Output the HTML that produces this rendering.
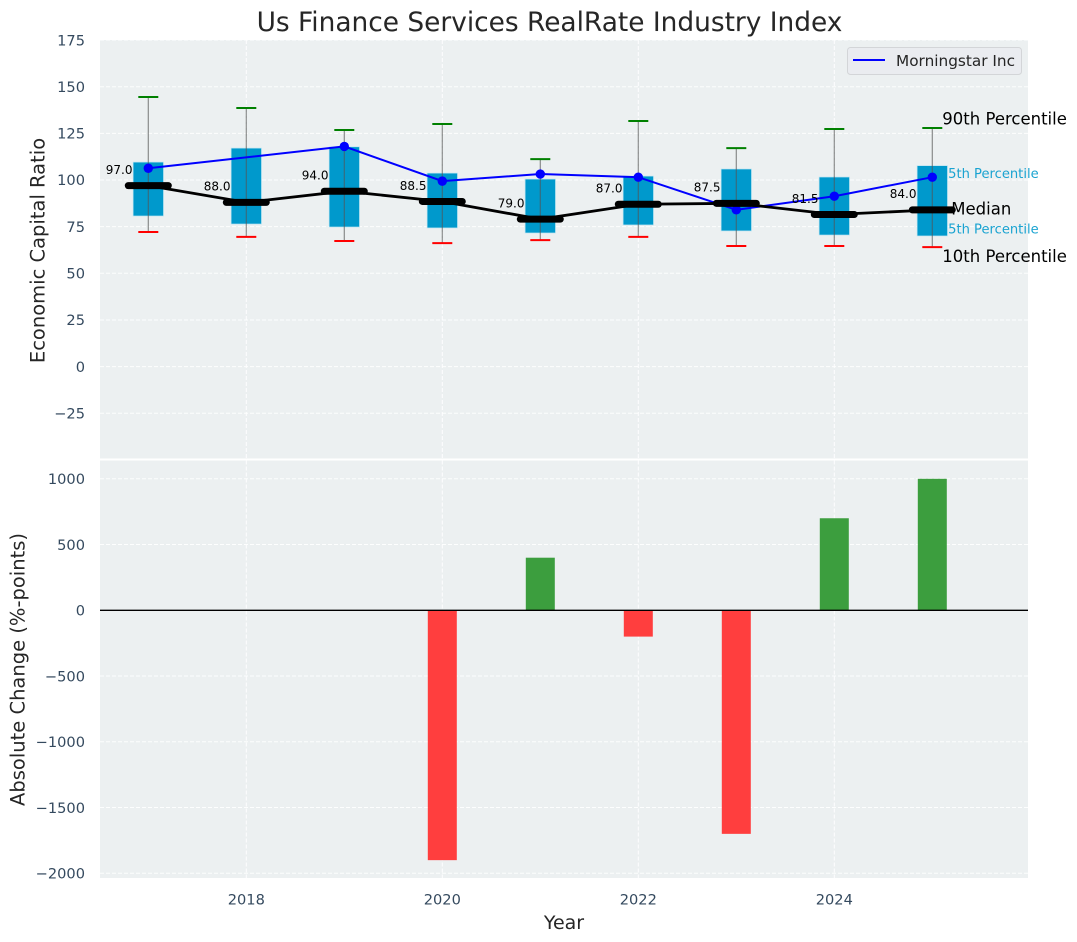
<!DOCTYPE html>
<html lang="en">
<head>
<meta charset="utf-8">
<title>Us Finance Services RealRate Industry Index</title>
<style>
html,body{margin:0;padding:0;background:#fff;width:1077px;height:942px;overflow:hidden}
svg{display:block;font-family:"DejaVu Sans","Liberation Sans",sans-serif}
</style>
</head>
<body>
<svg id="chart" width="1077" height="942" viewBox="0 0 1077 942" xmlns="http://www.w3.org/2000/svg">
  <g id="backgrounds"></g>
  <g id="layer"></g>
  <text x="549.5" y="31" text-anchor="middle" font-size="26.4" fill="#262626">Us Finance Services RealRate Industry Index</text>
  <text transform="translate(44.5,250.5) rotate(-90)" text-anchor="middle" font-size="19.5" fill="#262626">Economic Capital Ratio</text>
  <text transform="translate(24.5,669.5) rotate(-90)" text-anchor="middle" font-size="19.5" fill="#262626">Absolute Change (%-points)</text>
  <text x="564" y="929" text-anchor="middle" font-size="19" fill="#262626">Year</text>
  <g>
    <rect x="847.5" y="47.5" width="174" height="27" rx="3" fill="#EAECF0" stroke="#D3D5D8"/>
    <line x1="853" x2="885" y1="60" y2="60" stroke="#0000FF" stroke-width="2"/>
    <text x="896" y="66" font-size="15.3" fill="#262626">Morningstar Inc</text>
  </g>
</svg>
<script>
const years = [2017, 2018, 2019, 2020, 2021, 2022, 2023, 2024, 2025];
const p90 = [144.5, 138.6, 126.8, 130, 111.2, 131.6, 117.1, 127.3, 127.9];
const p75 = [109.6, 117.1, 117.8, 103.7, 100.5, 102.1, 105.9, 101.6, 107.7];
const median = [97, 88, 94, 88.5, 79, 87, 87.5, 81.5, 84];
const p25 = [80.7, 76.4, 74.8, 74.3, 71.6, 75.9, 72.7, 70.5, 70];
const p10 = [72.1, 69.5, 67.3, 66.2, 67.8, 69.5, 64.6, 64.6, 64];
const morningstar = [106.3, null, 118, 99.4, 103.2, 101.5, 84, 91.3, 101.5];
const changes = [null, null, null, -1900, 400, -200, -1700, 700, 1000];
const topTicks = [175, 150, 125, 100, 75, 50, 25, 0, -25];
const bottomTicks = [1000, 500, 0, -500, -1000, -1500, -2000];
const xTicks = [2018, 2020, 2022, 2024];

const NS = 'http://www.w3.org/2000/svg';
const backgrounds = document.getElementById('backgrounds');
const layer = document.getElementById('layer');
const plotLeft = 100, plotRight = 1028;
const topPanelTop = 40, topPanelBottom = 458.5, bottomPanelTop = 460.5, bottomPanelBottom = 878;
const GRID = '#FFFFFF', TICK = '#34495E', BOX = '#0099CC';

function xScale(year) { return 246.3 + (year - 2018) * 98; }
function yTop(v) { return 366.6 - v * 1.866; }
function yBottom(v) { return 610.3 - v * 0.1315; }

function make(tag, attrs, parent, text) {
  const el = document.createElementNS(NS, tag);
  for (const k in attrs) el.setAttribute(k, attrs[k]);
  if (text !== undefined) el.textContent = text;
  (parent || layer).appendChild(el);
  return el;
}
function minusText(v) { return v < 0 ? '\u2212' + Math.abs(v) : String(v); }

// Panels
const topPanel = make('rect', {x: plotLeft, y: topPanelTop, width: plotRight - plotLeft, height: topPanelBottom - topPanelTop, fill: '#ECF0F1'}, backgrounds);


const bottomPanel = make('rect', {x: plotLeft, y: bottomPanelTop, width: plotRight - plotLeft, height: bottomPanelBottom - bottomPanelTop, fill: '#ECF0F1'}, backgrounds);



// Gridlines and ticks
const gridAttrs = {stroke: GRID, 'stroke-width': 1, 'stroke-dasharray': '4 2', 'stroke-opacity': 0.9};
topTicks.forEach(function (t) {
  const g = make('line', Object.assign({x1: plotLeft, x2: plotRight, y1: yTop(t), y2: yTop(t)}, gridAttrs));
  
  
  const l = make('text', {x: 85, y: yTop(t) + 5.2, 'text-anchor': 'end', 'font-size': 14.6, fill: TICK}, layer, minusText(t));
  
  
});
bottomTicks.forEach(function (t) {
  const g = make('line', Object.assign({x1: plotLeft, x2: plotRight, y1: yBottom(t), y2: yBottom(t)}, gridAttrs));
  
  
  const l = make('text', {x: 85, y: yBottom(t) + 5.2, 'text-anchor': 'end', 'font-size': 14.6, fill: TICK}, layer, minusText(t));
  
  
});
xTicks.forEach(function (t) {
  const a = make('line', Object.assign({x1: xScale(t), x2: xScale(t), y1: topPanelTop, y2: topPanelBottom}, gridAttrs));
  
  
  const b = make('line', Object.assign({x1: xScale(t), x2: xScale(t), y1: bottomPanelTop, y2: bottomPanelBottom}, gridAttrs));
  
  
  const l = make('text', {x: xScale(t), y: 904.5, 'text-anchor': 'middle', 'font-size': 14.6, fill: TICK}, layer, String(t));
  
  
});

// Percentile annotations for the final year, drawn beneath the boxes
const last = years.length - 1;
const lastX = xScale(years[last]);
const lightText = {'font-size': 13.1, fill: '#1AA3D1'};
const a75 = make('text', Object.assign({x: lastX + 7.5, y: yTop(p75[last]) + 12.5}, lightText), layer, '75th Percentile');


const a25 = make('text', Object.assign({x: lastX + 7.5, y: yTop(p25[last]) - 2.5}, lightText), layer, '25th Percentile');



// Change bars
years.forEach(function (yr, i) {
  const v = changes[i];
  if (v === null) return;
  const y0 = yBottom(0), y1 = yBottom(v);
  const b = make('rect', {x: xScale(yr) - 14.5, width: 29, y: Math.min(y0, y1), height: Math.abs(y1 - y0), fill: v >= 0 ? '#3C9E3E' : '#FF3E3E'});
  
  
});
const zero = make('line', {x1: plotLeft, x2: plotRight, y1: yBottom(0), y2: yBottom(0), stroke: '#000', 'stroke-width': 1.3});



// Boxes
years.forEach(function (yr, i) {
  const r = make('rect', {x: xScale(yr) - 15.2, width: 30.4, y: yTop(p75[i]), height: yTop(p25[i]) - yTop(p75[i]), fill: BOX, stroke: '#BFE5F2', 'stroke-width': 0.7});
  
  
});

// Whiskers and caps
years.forEach(function (yr, i) {
  const x = xScale(yr);
  const w = make('line', {x1: x, x2: x, y1: yTop(p90[i]), y2: yTop(p10[i]), stroke: '#555', 'stroke-opacity': 0.65, 'stroke-width': 1.2});
  
  
  const c1 = make('line', {x1: x - 10, x2: x + 10, y1: yTop(p90[i]), y2: yTop(p90[i]), stroke: '#008000', 'stroke-width': 2});
  
  
  const c2 = make('line', {x1: x - 10, x2: x + 10, y1: yTop(p10[i]), y2: yTop(p10[i]), stroke: '#FF0000', 'stroke-width': 2});
  
  
});

// Morningstar line with points
const msPoints = [];
years.forEach(function (yr, i) {
  if (morningstar[i] !== null) msPoints.push(xScale(yr) + ',' + yTop(morningstar[i]));
});
const msLine = make('polyline', {points: msPoints.join(' '), fill: 'none', stroke: '#0000FF', 'stroke-width': 2});


years.forEach(function (yr, i) {
  if (morningstar[i] === null) return;
  const p = make('circle', {cx: xScale(yr), cy: yTop(morningstar[i]), r: 4.7, fill: '#0000FF'});
  
  
});

// Median line, thick median marks and labels
const medianLine = make('polyline', {points: years.map(function (yr, i) { return xScale(yr) + ',' + yTop(median[i]); }).join(' '), fill: 'none', stroke: '#000', 'stroke-width': 2.8});


years.forEach(function (yr, i) {
  const x = xScale(yr), y = yTop(median[i]);
  const m = make('line', {x1: x - 20, x2: x + 20, y1: y, y2: y, stroke: '#000', 'stroke-width': 7, 'stroke-linecap': 'round'});
  
  
  const t = make('text', {x: x - 15.8, y: y - 11.7, 'text-anchor': 'end', 'font-size': 12, fill: '#000'}, layer, median[i].toFixed(1));
  
  
});

// Black annotations for the final year
const bigText = {'font-size': 16.5, fill: '#000'};
const a90 = make('text', Object.assign({x: lastX + 10, y: yTop(p90[last]) - 3.5}, bigText), layer, '90th Percentile');


const a50 = make('text', Object.assign({x: lastX + 19, y: yTop(median[last]) + 4.5}, bigText), layer, 'Median');


const a10 = make('text', Object.assign({x: lastX + 10, y: yTop(p10[last]) + 15}, bigText), layer, '10th Percentile');


</script>
</body>
</html>
